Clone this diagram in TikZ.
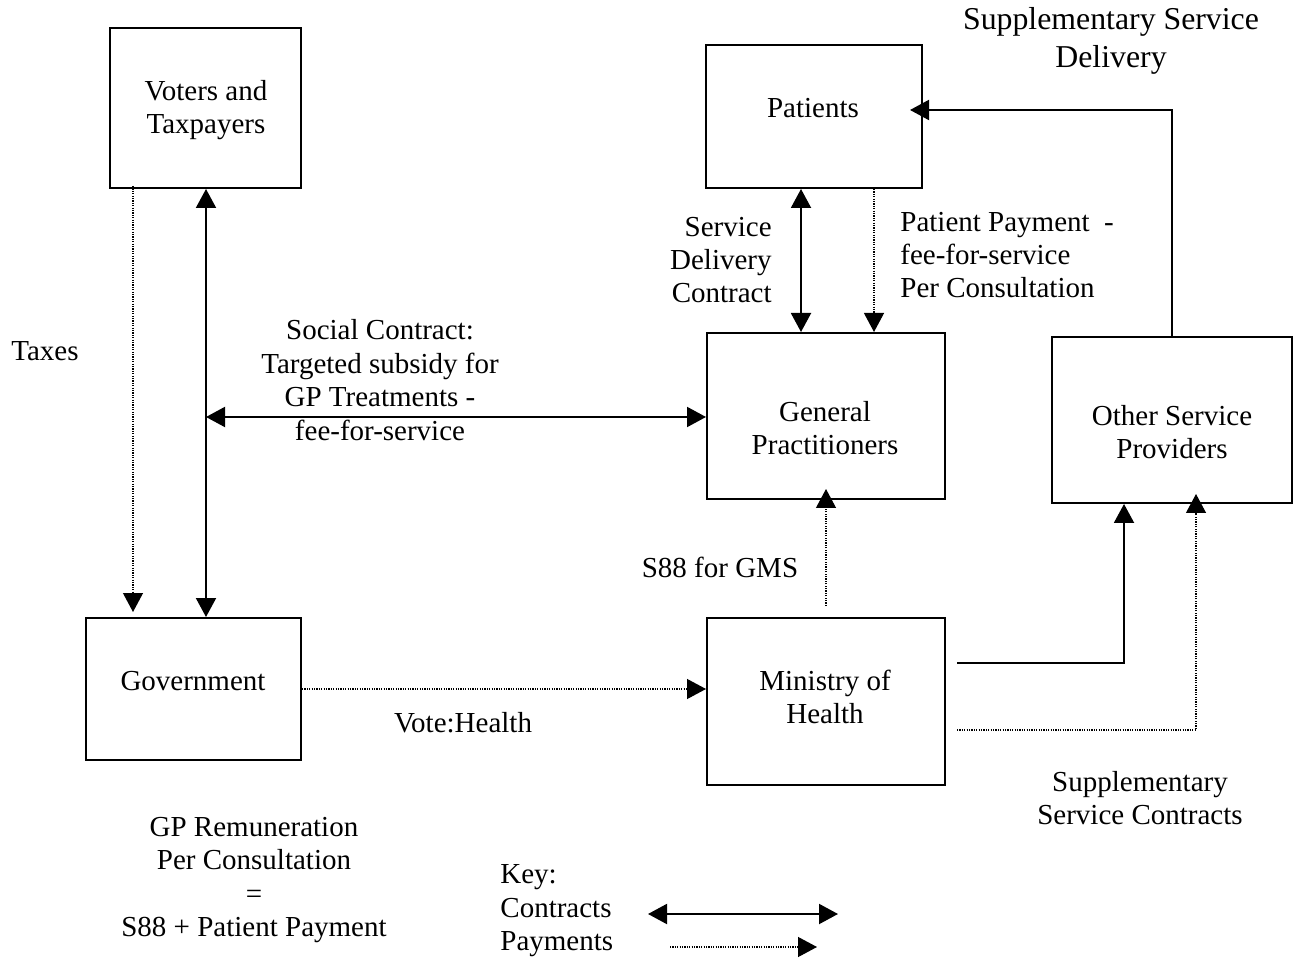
\documentclass[tikz,border=0pt]{standalone}
\usepackage{fontspec}
\setmainfont{Liberation Serif}
\usetikzlibrary{arrows.meta}
\begin{document}
\begin{tikzpicture}[x=0.5pt,y=-0.5pt,
  box/.style={draw, line width=1pt, rectangle, inner sep=0pt},
  txt/.style={font=\fontsize{14.5}{16.7}\selectfont, align=center, inner sep=0pt},
  bigtxt/.style={font=\fontsize{15.9}{18.8}\selectfont, align=center, inner sep=0pt},
  contract/.style={line width=1pt, {Triangle[length=9.5pt,width=10pt]}-{Triangle[length=9.5pt,width=10pt]}},
  single/.style={line width=1pt, -{Triangle[length=9.5pt,width=10pt]}},
  payment/.style={line width=0.6pt, dash pattern=on 0.6pt off 0.6pt, -{Triangle[length=9.5pt,width=10pt]}}
]
\useasboundingbox (0,0) rectangle (1294,961);

% boxes
\node[box, minimum width=95.5pt, minimum height=80pt] (voters) at (205.5,108) {};
\node[box, minimum width=108pt, minimum height=71.5pt] (patients) at (814,116.5) {};
\node[box, minimum width=119pt, minimum height=83pt] (gp) at (826,416) {};
\node[box, minimum width=120pt, minimum height=83pt] (other) at (1172,420) {};
\node[box, minimum width=107.5pt, minimum height=71pt] (gov) at (193.5,689) {};
\node[box, minimum width=119pt, minimum height=83.5pt] (ministry) at (826,701.5) {};

% box texts
\node[txt] (voterst) at (206,110) {Voters and\\Taxpayers};
\node[txt] (patientst) at (813,108) {Patients};
\node[txt] (gpt) at (825,428) {General\\Practitioners};
\node[txt] (othert) at (1172,432) {Other Service\\Providers};
\node[txt] (govt) at (193,681) {Government};
\node[txt] (ministryt) at (825,697) {Ministry of\\Health};

% labels
\node[bigtxt] (supdel) at (1111,41) {Supplementary Service\\Delivery};
\node[txt, align=right, anchor=east] (sdc) at (772,260) {Service\\Delivery\\Contract};
\node[txt, align=left, anchor=west] (ppay) at (900,255) {Patient Payment\ \ -\\fee-for-service\\Per Consultation};
\node[txt] (taxes) at (45,351) {Taxes};
\node[txt] (social) at (380,380) {Social Contract:\\Targeted subsidy for\\GP Treatments -\\fee-for-service};
\node[txt] (s88) at (720,567) {S88 for GMS};
\node[txt] (vote) at (463,723) {Vote:Health};
\node[txt] (supcon) at (1140,798) {Supplementary\\Service Contracts};
\node[txt] (remun) at (254,880) {GP Remuneration\\Per Consultation\\=\\S88 + Patient Payment};
\node[txt, align=left, anchor=west] (key) at (500,911) {Key:\\Contracts\\Payments};

% helper coordinates
\coordinate (tx) at (133,0);
\coordinate (sc) at (206,417);
\coordinate (pc) at (801,0);
\coordinate (pp) at (874,0);
\coordinate (pe) at (910,110);
\coordinate (m1) at (957,663);
\coordinate (m2) at (957,730);
\coordinate (oc1) at (1124,0);
\coordinate (oc2) at (1196,0);
\coordinate (k1) at (648,914);
\coordinate (k2) at (838,914);
\coordinate (k3) at (670,947);
\coordinate (k4) at (817,947);

% connectors
\draw[payment, shorten >=2.5pt] ([yshift=1.5pt]voters.south -| tx) -- (gov.north -| tx);
\draw[contract] (voters.south -| sc) -- (gov.north -| sc);
\draw[contract] (sc) -- (gp.west |- sc);
\draw[contract] (patients.south -| pc) -- (gp.north -| pc);
\draw[payment] (patients.south -| pp) -- (gp.north -| pp);
\draw[single] (other.north) |- (pe);
\draw[payment] ([yshift=5.5pt]ministry.north) -- ([yshift=5.5pt]gp.south);
\draw[payment] (gov.east) -- (ministry.west |- gov.east);
\draw[single] (m1) -| (other.south -| oc1);
\draw[payment] (m2) -| ([yshift=5pt]other.south -| oc2);

% key
\draw[contract] (k1) -- (k2);
\draw[payment] (k3) -- (k4);
\end{tikzpicture}
\end{document}
